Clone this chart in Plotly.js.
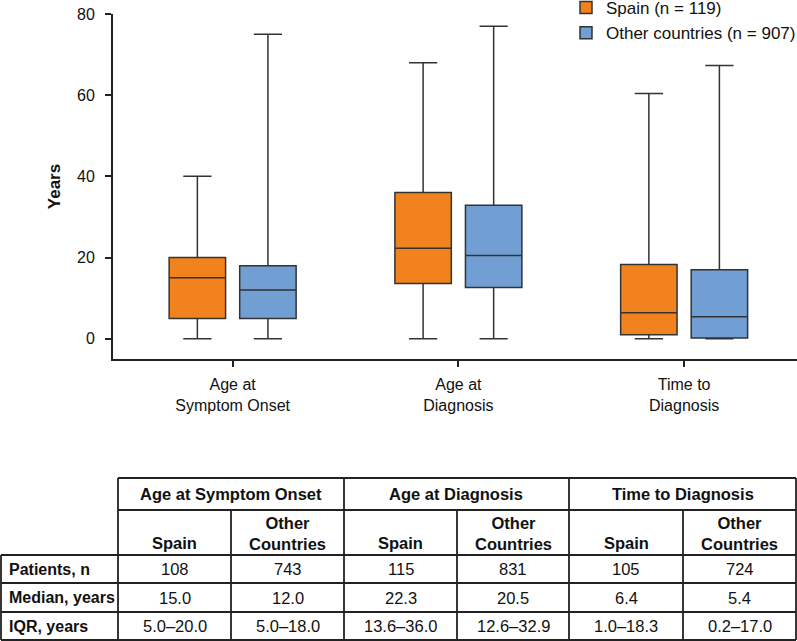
<!DOCTYPE html>
<html><head><meta charset="utf-8">
<script src="https://cdn.plot.ly/plotly-3.0.1.min.js"></script>
<style>html,body{margin:0;padding:0;background:#fff}#chart{width:797px;height:641px}</style>
</head><body><div id="chart"></div>
<script>
// ---- data ----
const categories = ['Age at<br>Symptom Onset', 'Age at<br>Diagnosis', 'Time to<br>Diagnosis'];
const tableGroups = ['Age at Symptom Onset', 'Age at Diagnosis', 'Time to Diagnosis'];
const seriesNames = ['Spain (n = 119)', 'Other countries (n = 907)'];
const subHeaders = ['Spain', 'Other<br>Countries'];
const rowLabels = ['Patients, n', 'Median, years', 'IQR, years'];

const spainMin = [0, 0, 0];
const spainQ1 = [5.0, 13.6, 1.0];
const spainMedian = [15.0, 22.3, 6.4];
const spainQ3 = [20.0, 36.0, 18.3];
const spainMax = [40, 68, 60.4];
const spainN = [108, 115, 105];

const otherMin = [0, 0, 0];
const otherQ1 = [5.0, 12.6, 0.2];
const otherMedian = [12.0, 20.5, 5.4];
const otherQ3 = [18.0, 32.9, 17.0];
const otherMax = [75, 77, 67.3];
const otherN = [743, 831, 724];

// ---- layout geometry (pixels) ----
const W = 797, H = 641;
const PL = 113, PR = 797, PT = 14, PB = 359;
const px = x => (x - PL) / (PR - PL);
const py = y => (PB - y) / (PB - PT);
const FONT = 'Liberation Sans, Arial, Helvetica, sans-serif';
const INK = '#222222';

const orange = '#F2821E';
const blue = '#719FD3';
const boxLine = '#333333';

function boxTrace(name, color, lo, q1, med, q3, hi) {
  return {
    type: 'box', name: name, x: categories,
    lowerfence: lo, q1: q1, median: med, q3: q3, upperfence: hi,
    fillcolor: color, line: {color: boxLine, width: 1.5},
    whiskerwidth: 0.5, boxpoints: false, hoverinfo: 'skip'
  };
}

const traces = [
  boxTrace(seriesNames[0], orange, spainMin, spainQ1, spainMedian, spainQ3, spainMax),
  boxTrace(seriesNames[1], blue, otherMin, otherQ1, otherMedian, otherQ3, otherMax)
];

// ---- table (shapes + annotations) ----
const colEdges = [118, 231, 344, 457, 569, 683, 796];
const rowEdges = [478, 510, 555, 583, 612, 640];
const labelLeft = 1;
const shapes = [];
function seg(x0, y0, x1, y1) {
  shapes.push({type: 'line', xref: 'paper', yref: 'paper',
    x0: px(x0), y0: py(y0), x1: px(x1), y1: py(y1),
    line: {color: INK, width: 1.8}});
}
// header block
seg(colEdges[0], rowEdges[0], colEdges[6], rowEdges[0]);
seg(colEdges[0], rowEdges[1], colEdges[6], rowEdges[1]);
seg(colEdges[0], rowEdges[0], colEdges[0], rowEdges[5]);
// body horizontal lines
for (let r = 2; r < rowEdges.length; r++) seg(labelLeft, rowEdges[r], colEdges[6], rowEdges[r]);
seg(labelLeft, rowEdges[2], labelLeft, rowEdges[5]);
// group verticals
[2, 4, 6].forEach(c => seg(colEdges[c], rowEdges[0], colEdges[c], rowEdges[5]));
// sub-column verticals
[1, 3, 5].forEach(c => seg(colEdges[c], rowEdges[1], colEdges[c], rowEdges[5]));

const annotations = [];
function txt(text, x, y, size, opts) {
  annotations.push(Object.assign({
    text: text, xref: 'paper', yref: 'paper', x: px(x), y: py(y),
    xanchor: 'center', yanchor: 'middle', showarrow: false,
    font: {family: FONT, size: size, color: '#111'}
  }, opts || {}));
}
tableGroups.forEach((g, i) => {
  txt('<b>' + g + '</b>', (colEdges[2 * i] + colEdges[2 * i + 2]) / 2, (rowEdges[0] + rowEdges[1]) / 2, 16.5);
  txt('<b>' + subHeaders[0] + '</b>', (colEdges[2 * i] + colEdges[2 * i + 1]) / 2, 543, 16.5);
  txt('<b>' + subHeaders[1] + '</b>', (colEdges[2 * i + 1] + colEdges[2 * i + 2]) / 2, 533, 16.5);
});
const rowCenters = [0, 1, 2].map(r => (rowEdges[r + 2] + rowEdges[r + 3]) / 2);
rowLabels.forEach((lab, r) => {
  txt('<b>' + lab + '</b>', 7, rowCenters[r], 16, {xanchor: 'left'});
});
const cellValues = [
  [spainN, otherN].map(a => a.map(v => String(v))),
  [spainMedian, otherMedian].map(a => a.map(v => v.toFixed(1))),
  [[spainQ1, spainQ3], [otherQ1, otherQ3]].map(([a, b]) => a.map((v, i) => v.toFixed(1) + '\u2013' + b[i].toFixed(1)))
];
cellValues.forEach((row, r) => {
  for (let g = 0; g < 3; g++) {
    for (let s = 0; s < 2; s++) {
      const c = 2 * g + s;
      txt(row[s][g], (colEdges[c] + colEdges[c + 1]) / 2, rowCenters[r], 16.5);
    }
  }
});

const layout = {
  width: W, height: H,
  margin: {l: PL, r: W - PR, t: PT, b: H - PB, autoexpand: false},
  paper_bgcolor: '#fff', plot_bgcolor: '#fff',
  font: {family: FONT, size: 16, color: '#111'},
  boxmode: 'group', boxgap: 0.375, boxgroupgap: 0.2,
  showlegend: true,
  legend: {x: px(566), y: py(-10), xanchor: 'left', yanchor: 'top',
    bgcolor: 'rgba(0,0,0,0)', font: {size: 17}, tracegroupgap: 0},
  xaxis: {type: 'category', range: [-0.53, 2.5], showline: true, linecolor: INK, linewidth: 2,
    ticks: 'outside', ticklen: 6, tickwidth: 2, tickcolor: INK, showgrid: false, zeroline: false,
    ticklabelstandoff: 4, tickfont: {size: 16}, fixedrange: true},
  yaxis: {range: [-5, 80], tickvals: [0, 20, 40, 60, 80], showline: true, linecolor: INK, linewidth: 2,
    ticks: 'outside', ticklen: 6, tickwidth: 2, tickcolor: INK, showgrid: false, zeroline: false,
    ticklabelstandoff: 7, tickfont: {size: 16},
    title: {text: '<b>Years</b>', font: {size: 17}, standoff: 12}, fixedrange: true},
  shapes: shapes,
  annotations: annotations
};

Plotly.newPlot('chart', traces, layout, {displayModeBar: false, staticPlot: true});
</script>
</body></html>
